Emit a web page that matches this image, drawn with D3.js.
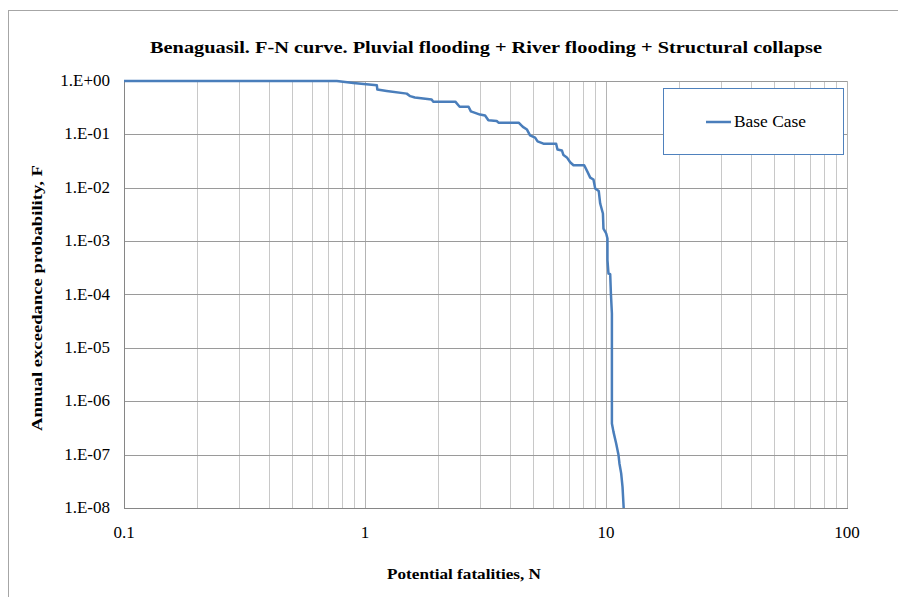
<!DOCTYPE html>
<html>
<head>
<meta charset="utf-8">
<script src="https://cdn.jsdelivr.net/npm/d3@7"></script>
<style>
  body { margin: 0; background: #fff; }
  text { font-family: "Liberation Serif", "Times New Roman", serif; fill: #000; }
</style>
</head>
<body>
<svg id="chart"></svg>
<script>
// F-N curve
const fatalities = [0.1, 0.764, 0.895, 1.12, 1.125, 1.23, 1.49, 1.54, 1.61, 1.89, 1.92, 2.37, 2.47, 2.69, 2.75,
    3.0, 3.15, 3.25, 3.52, 3.58, 4.34, 4.52, 4.70, 4.84, 5.08, 5.20, 5.50, 6.21, 6.29, 6.56, 6.66, 6.88,
    7.10, 7.33, 8.12, 8.38, 8.60, 8.87, 9.02, 9.33, 9.46, 9.71, 9.76, 10.02, 10.14, 10.14, 10.24, 10.41,
    10.48, 10.58, 10.58, 10.74, 11.02, 11.27, 11.37, 11.56, 11.71, 11.84];
const probability = [1, 1, 0.918, 0.83, 0.69, 0.65, 0.58, 0.52, 0.49, 0.45, 0.41, 0.41, 0.33, 0.33, 0.27,
    0.235, 0.225, 0.184, 0.178, 0.166, 0.166, 0.138, 0.123, 0.096, 0.087, 0.074, 0.067, 0.067, 0.052, 0.050,
    0.041, 0.037, 0.030, 0.0264, 0.0264, 0.0198, 0.0155, 0.0143, 0.00966, 0.0087, 0.00506, 0.00329,
    0.00172, 0.00139, 0.00112, 4.39e-4, 2.47e-4, 2.40e-4, 1.04e-4, 4.4e-5, 3.84e-7, 2.67e-7, 1.62e-7,
    9.8e-8, 6.84e-8, 4.45e-8, 2.49e-8, 1e-8];

const xTicks = [0.1, 1, 10, 100];
const xTickLabels = ["0.1", "1", "10", "100"];
const yTicks = [1, 1e-1, 1e-2, 1e-3, 1e-4, 1e-5, 1e-6, 1e-7, 1e-8];
const yTickLabels = ["1.E+00", "1.E-01", "1.E-02", "1.E-03", "1.E-04", "1.E-05", "1.E-06", "1.E-07", "1.E-08"];
const seriesName = "Base Case";

const chartTitle = "Benaguasil. F-N curve. Pluvial flooding + River flooding + Structural collapse";
const xTitle = "Potential fatalities, N";
const yTitle = "Annual exceedance probability, F";

function main() {
    let data = fatalities.map((n, i) => ({ n: n, f: probability[i] }));

    const canvasWidth = 898;
    const canvasHeight = 597;

    let svg = d3.select("#chart")
        .attr("width", canvasWidth)
        .attr("height", canvasHeight);

    // outer chart frame
    svg.append("rect")
        .attr("x", 8.5).attr("y", 10.5)
        .attr("width", 900).attr("height", 700)
        .attr("fill", "none")
        .attr("stroke", "#a6a6a6");

    const left = 124, right = 847, top = 81, bottom = 508;

    let x = d3.scaleLog().domain([0.1, 100]).range([left, right]);
    let y = d3.scaleLog().domain([1e-8, 1]).range([bottom, top]);

    // minor vertical grid (2..9 in each decade)
    let minor = [];
    for (let d = 0.1; d < 100; d *= 10) {
        for (let k = 2; k <= 9; k++) minor.push(d * k);
    }
    svg.append("g")
        .selectAll("line")
        .data(minor)
        .join("line")
        .attr("x1", d => Math.round(x(d)) + 0.5)
        .attr("x2", d => Math.round(x(d)) + 0.5)
        .attr("y1", top).attr("y2", bottom)
        .attr("stroke", "#c8c8c8");

    svg.append("g")
        .selectAll("line")
        .data(xTicks.slice(1))
        .join("line")
        .attr("x1", d => Math.round(x(d)) + 0.5)
        .attr("x2", d => Math.round(x(d)) + 0.5)
        .attr("y1", top).attr("y2", bottom)
        .attr("stroke", "#b4b4b4");

    // horizontal grid
    svg.append("g")
        .selectAll("line")
        .data(yTicks)
        .join("line")
        .attr("x1", left).attr("x2", right)
        .attr("y1", d => Math.round(y(d)) + 0.5)
        .attr("y2", d => Math.round(y(d)) + 0.5)
        .attr("stroke", "#9a9a9a");

    // axes
    svg.append("line")
        .attr("x1", left + 0.5).attr("x2", left + 0.5)
        .attr("y1", top).attr("y2", bottom + 1)
        .attr("stroke", "#868686");
    svg.append("line")
        .attr("x1", left).attr("x2", right + 1)
        .attr("y1", bottom + 0.5).attr("y2", bottom + 0.5)
        .attr("stroke", "#868686");

    // tick labels
    svg.append("g")
        .selectAll("text")
        .data(xTicks)
        .join("text")
        .attr("x", d => x(d))
        .attr("y", bottom + 30)
        .attr("text-anchor", "middle")
        .attr("font-size", 17)
        .text((d, i) => xTickLabels[i]);

    svg.append("g")
        .selectAll("text")
        .data(yTicks)
        .join("text")
        .attr("x", 110)
        .attr("y", d => y(d) + 5)
        .attr("text-anchor", "end")
        .attr("font-size", 17)
        .text((d, i) => yTickLabels[i]);

    // the curve
    let line = d3.line()
        .x(d => x(d.n))
        .y(d => y(d.f));
    svg.append("path")
        .datum(data)
        .attr("d", line)
        .attr("fill", "none")
        .attr("stroke", "#4a7ebb")
        .attr("stroke-width", 2.5)
        .attr("stroke-linejoin", "round");

    // titles (Excel draws these stretched, so fix their widths)
    svg.append("text")
        .text(chartTitle)
        .attr("x", 486)
        .attr("y", 53)
        .attr("font-size", 17)
        .attr("font-weight", "bold")
        .attr("textLength", 672)
        .attr("lengthAdjust", "spacingAndGlyphs")
        .style("text-anchor", "middle");

    svg.append("text")
        .text(xTitle)
        .attr("x", 464)
        .attr("y", 579)
        .attr("font-size", 15)
        .attr("font-weight", "bold")
        .attr("textLength", 154)
        .attr("lengthAdjust", "spacingAndGlyphs")
        .style("text-anchor", "middle");

    svg.append("text")
        .text(yTitle)
        .attr("font-size", 15)
        .attr("font-weight", "bold")
        .attr("textLength", 266)
        .attr("lengthAdjust", "spacingAndGlyphs")
        .attr("transform", "translate(42, 298) rotate(-90)")
        .style("text-anchor", "middle");

    // legend
    let legend = svg.append("g");
    legend.append("rect")
        .attr("x", 663.5).attr("y", 88.5)
        .attr("width", 180).attr("height", 66)
        .attr("fill", "#fff")
        .attr("stroke", "#4f81bd");
    legend.append("line")
        .attr("x1", 706).attr("x2", 731)
        .attr("y1", 122).attr("y2", 122)
        .attr("stroke", "#4a7ebb")
        .attr("stroke-width", 2.5);
    legend.append("text")
        .text(seriesName)
        .attr("x", 734)
        .attr("y", 127)
        .attr("font-size", 17)
        .attr("textLength", 72)
        .attr("lengthAdjust", "spacingAndGlyphs");
}

main();
</script>
</body>
</html>
